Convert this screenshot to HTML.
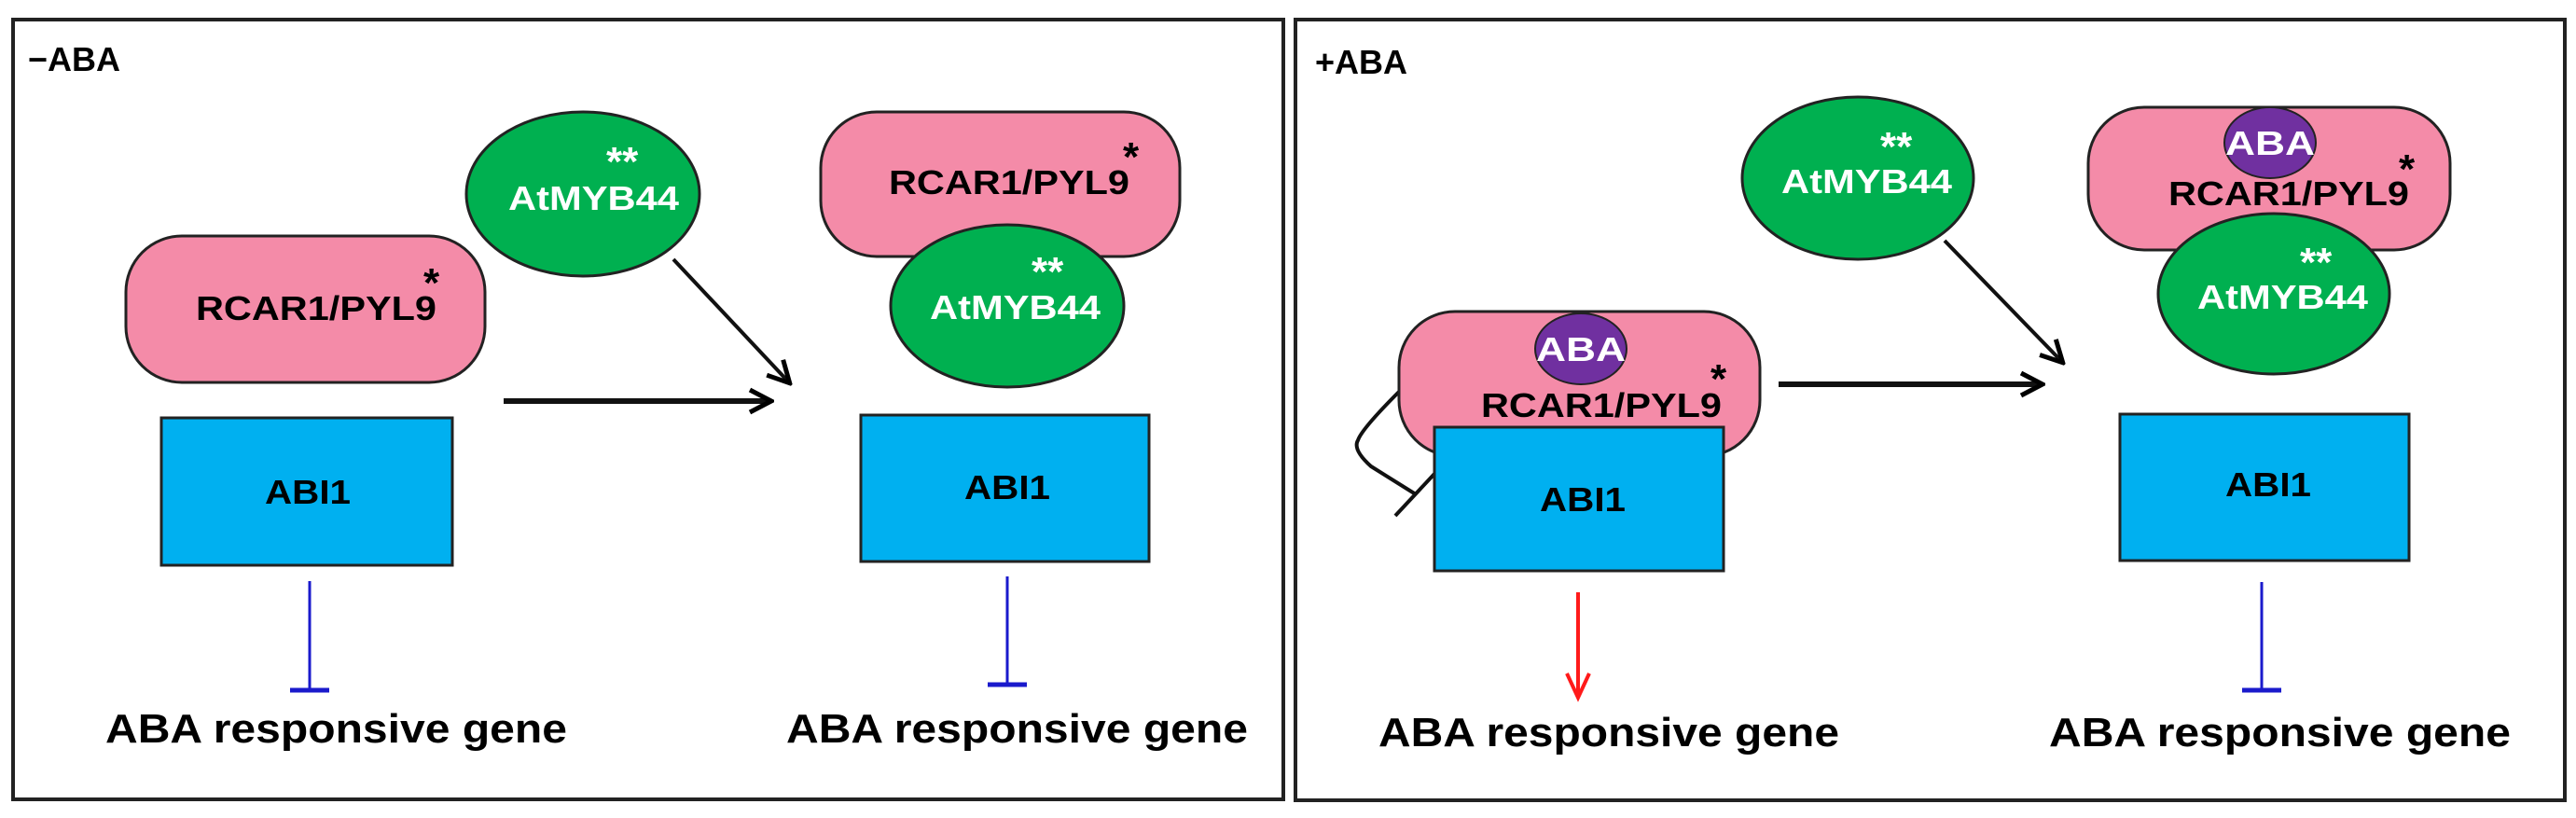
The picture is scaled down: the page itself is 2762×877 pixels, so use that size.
<!DOCTYPE html>
<html><head><meta charset="utf-8"><style>html,body{margin:0;padding:0;background:#fff}svg{display:block}</style></head>
<body>
<svg width="2762" height="877" viewBox="0 0 2762 877" xmlns="http://www.w3.org/2000/svg" font-family="Liberation Sans, Arial, sans-serif" font-weight="bold">
<defs>
<marker id="ah" markerWidth="30" markerHeight="30" refX="26" refY="15" orient="auto" markerUnits="userSpaceOnUse" viewBox="0 0 30 30"><path d="M4,3 L27,15 L4,27" fill="none" stroke="#000" stroke-width="5"/></marker>
</defs>
<rect x="0" y="0" width="2762" height="877" fill="#fff"/>
<rect x="14" y="21" width="1362" height="836" fill="none" stroke="#222" stroke-width="4"/>
<rect x="1389" y="21" width="1361" height="837" fill="none" stroke="#222" stroke-width="4"/>
<text x="30" y="76" font-size="36">−ABA</text>
<text x="1410" y="79" font-size="36">+ABA</text>

<rect x="135" y="253" width="385" height="157" rx="60" fill="#f48ba8" stroke="#222" stroke-width="3"/>
<text x="210" y="343" font-size="36" textLength="258" lengthAdjust="spacingAndGlyphs">RCAR1/PYL9</text>
<text x="454" y="318" font-size="44">*</text>
<ellipse cx="625" cy="208" rx="125" ry="88" fill="#00b050" stroke="#222" stroke-width="3"/>
<text x="650" y="188" font-size="44" fill="#fff">**</text>
<text x="545" y="225" font-size="36" fill="#fff" textLength="183" lengthAdjust="spacingAndGlyphs">AtMYB44</text>
<line x1="540" y1="430" x2="826" y2="430" stroke="#111" stroke-width="6" marker-end="url(#ah)"/>
<line x1="722" y1="278" x2="846" y2="410" stroke="#111" stroke-width="4" marker-end="url(#ah)"/>
<rect x="173" y="448" width="312" height="158" fill="#00b0f0" stroke="#222" stroke-width="3"/>
<text x="330" y="540" font-size="36" text-anchor="middle" textLength="92" lengthAdjust="spacingAndGlyphs">ABI1</text>
<line x1="332" y1="623" x2="332" y2="740" stroke="#1a1acc" stroke-width="3"/>
<line x1="311" y1="740" x2="353" y2="740" stroke="#1a1acc" stroke-width="5"/>
<text x="113" y="796" font-size="44" textLength="495" lengthAdjust="spacingAndGlyphs">ABA responsive gene</text>

<rect x="880" y="120" width="385" height="155" rx="60" fill="#f48ba8" stroke="#222" stroke-width="3"/>
<text x="953" y="208" font-size="36" textLength="258" lengthAdjust="spacingAndGlyphs">RCAR1/PYL9</text>
<text x="1204" y="183" font-size="44">*</text>
<ellipse cx="1080" cy="328" rx="125" ry="87" fill="#00b050" stroke="#222" stroke-width="3"/>
<text x="1106" y="306" font-size="44" fill="#fff">**</text>
<text x="997" y="342" font-size="36" fill="#fff" textLength="183" lengthAdjust="spacingAndGlyphs">AtMYB44</text>
<rect x="923" y="445" width="309" height="157" fill="#00b0f0" stroke="#222" stroke-width="3"/>
<text x="1080" y="535" font-size="36" text-anchor="middle" textLength="92" lengthAdjust="spacingAndGlyphs">ABI1</text>
<line x1="1080" y1="618" x2="1080" y2="734" stroke="#1a1acc" stroke-width="3"/>
<line x1="1059" y1="734" x2="1101" y2="734" stroke="#1a1acc" stroke-width="5"/>
<text x="843" y="796" font-size="44" textLength="495" lengthAdjust="spacingAndGlyphs">ABA responsive gene</text>

<ellipse cx="1992" cy="191" rx="124" ry="87" fill="#00b050" stroke="#222" stroke-width="3"/>
<text x="2016" y="172" font-size="44" fill="#fff">**</text>
<text x="1910" y="207" font-size="36" fill="#fff" textLength="183" lengthAdjust="spacingAndGlyphs">AtMYB44</text>

<rect x="2239" y="115" width="388" height="153" rx="60" fill="#f48ba8" stroke="#222" stroke-width="3"/>
<ellipse cx="2434" cy="153" rx="49" ry="38" fill="#7030a0" stroke="#222" stroke-width="2"/>
<text x="2434" y="166" font-size="36" fill="#fff" text-anchor="middle" textLength="96" lengthAdjust="spacingAndGlyphs">ABA</text>
<text x="2325" y="220" font-size="36" textLength="258" lengthAdjust="spacingAndGlyphs">RCAR1/PYL9</text>
<text x="2572" y="196" font-size="44">*</text>
<ellipse cx="2438" cy="315" rx="124" ry="86" fill="#00b050" stroke="#222" stroke-width="3"/>
<text x="2466" y="296" font-size="44" fill="#fff">**</text>
<text x="2356" y="331" font-size="36" fill="#fff" textLength="183" lengthAdjust="spacingAndGlyphs">AtMYB44</text>
<rect x="2273" y="444" width="310" height="157" fill="#00b0f0" stroke="#222" stroke-width="3"/>
<text x="2432" y="532" font-size="36" text-anchor="middle" textLength="92" lengthAdjust="spacingAndGlyphs">ABI1</text>
<line x1="2425" y1="624" x2="2425" y2="740" stroke="#1a1acc" stroke-width="3"/>
<line x1="2404" y1="740" x2="2446" y2="740" stroke="#1a1acc" stroke-width="5"/>
<text x="2197" y="800" font-size="44" textLength="495" lengthAdjust="spacingAndGlyphs">ABA responsive gene</text>

<line x1="1907" y1="412" x2="2189" y2="412" stroke="#111" stroke-width="6" marker-end="url(#ah)"/>
<line x1="2085" y1="258" x2="2211" y2="388" stroke="#111" stroke-width="4" marker-end="url(#ah)"/>

<path d="M1500,420 Q1460,460 1456,472 Q1450,482 1470,500 L1518,530" fill="none" stroke="#111" stroke-width="4"/>
<line x1="1496" y1="553" x2="1538" y2="508" stroke="#111" stroke-width="4"/>

<rect x="1500" y="334" width="387" height="155" rx="60" fill="#f48ba8" stroke="#222" stroke-width="3"/>
<ellipse cx="1695" cy="374" rx="49" ry="38" fill="#7030a0" stroke="#222" stroke-width="2"/>
<text x="1695" y="387" font-size="36" fill="#fff" text-anchor="middle" textLength="96" lengthAdjust="spacingAndGlyphs">ABA</text>
<text x="1588" y="447" font-size="36" textLength="258" lengthAdjust="spacingAndGlyphs">RCAR1/PYL9</text>
<text x="1834" y="421" font-size="44">*</text>
<rect x="1538" y="458" width="310" height="154" fill="#00b0f0" stroke="#222" stroke-width="3"/>
<text x="1697" y="548" font-size="36" text-anchor="middle" textLength="92" lengthAdjust="spacingAndGlyphs">ABI1</text>
<line x1="1692" y1="635" x2="1692" y2="746" stroke="#ff1a1a" stroke-width="4"/>
<path d="M1680,722 L1692,748 L1704,722" fill="none" stroke="#ff1a1a" stroke-width="4"/>
<text x="1478" y="800" font-size="44" textLength="494" lengthAdjust="spacingAndGlyphs">ABA responsive gene</text>
</svg>
</body></html>
